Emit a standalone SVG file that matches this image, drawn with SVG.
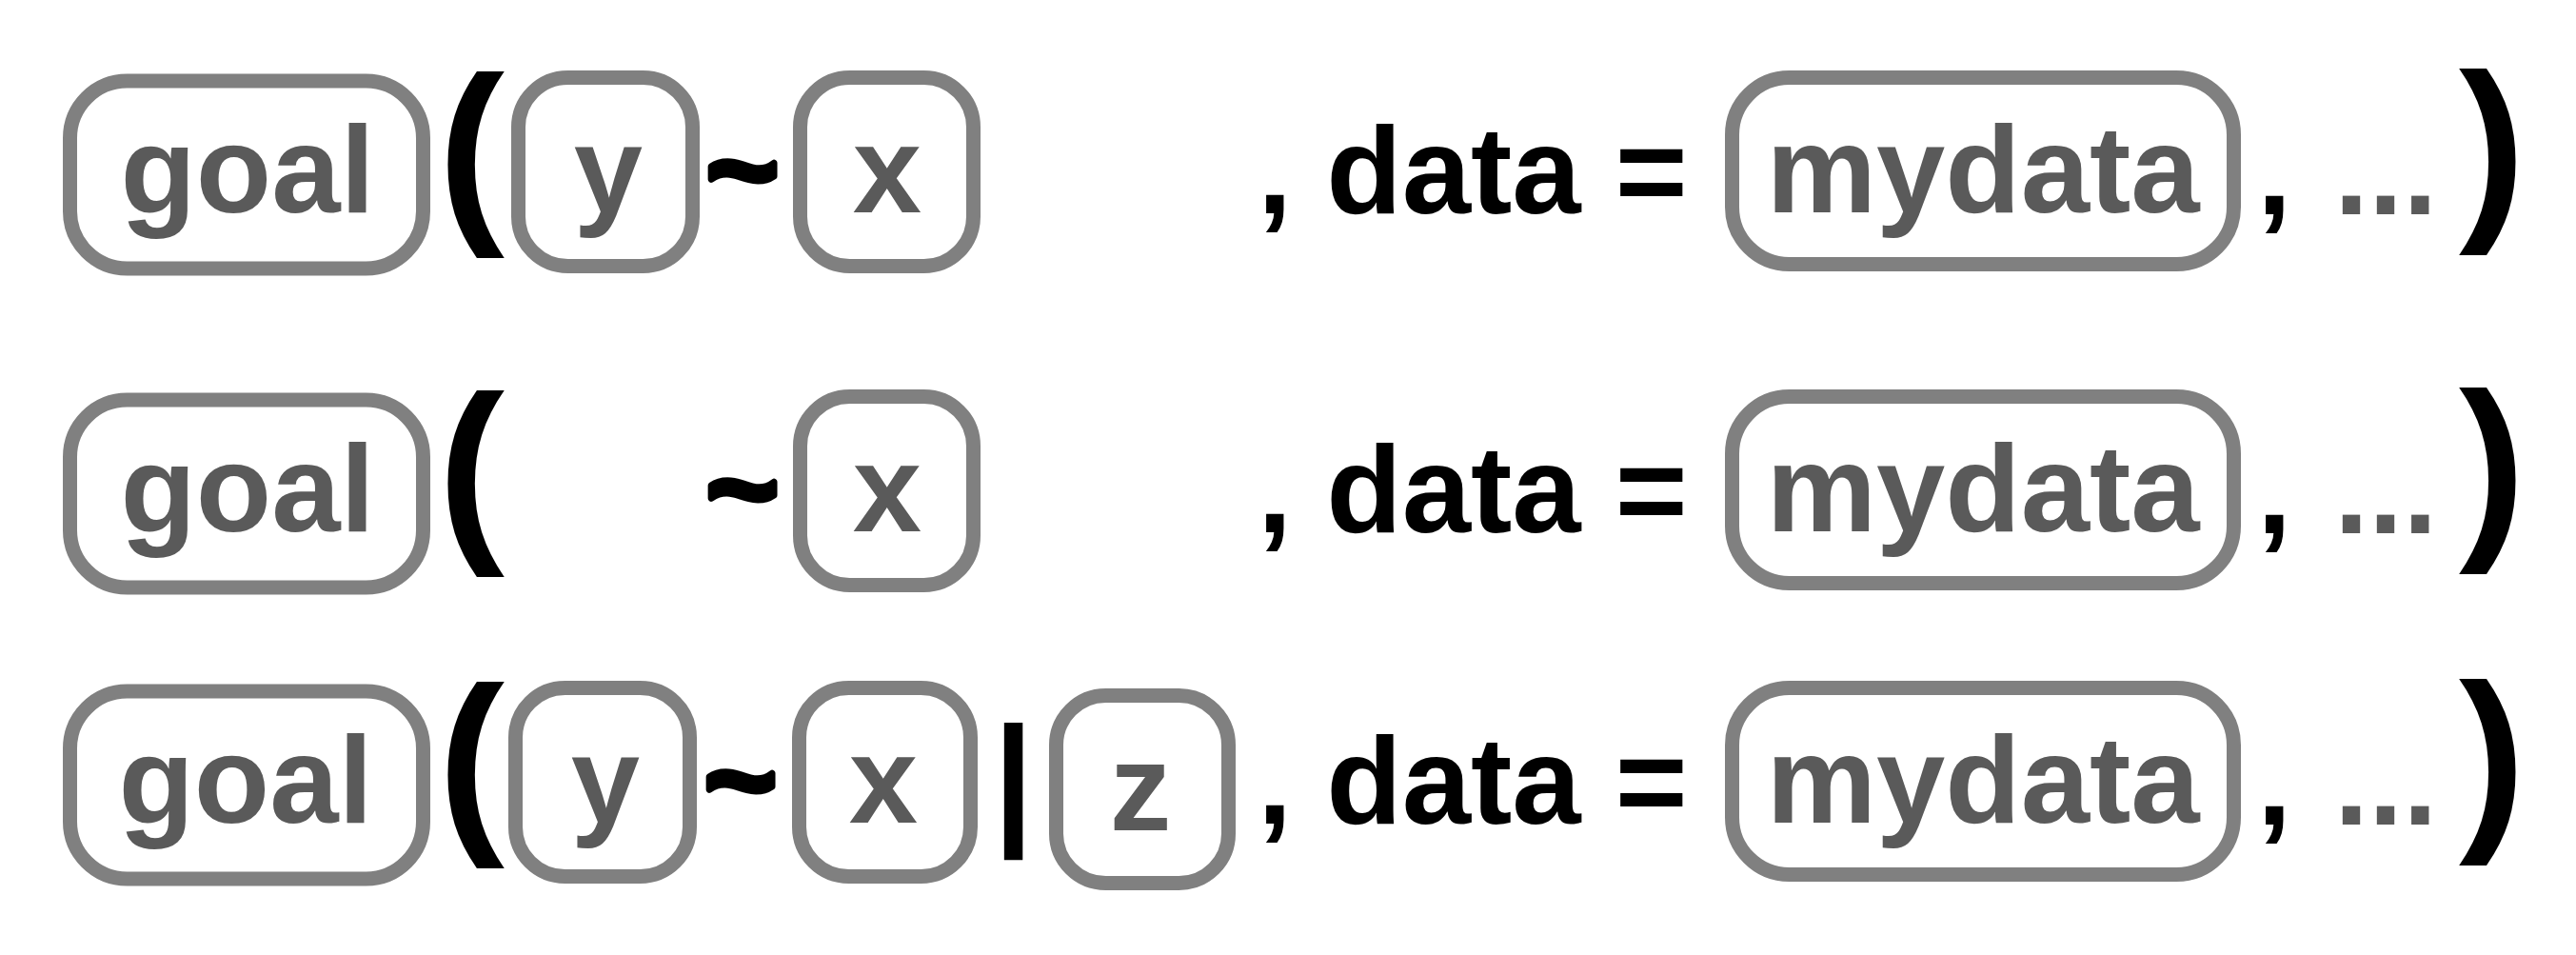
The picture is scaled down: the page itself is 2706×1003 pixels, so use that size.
<svg xmlns="http://www.w3.org/2000/svg" width="2706" height="1003" viewBox="0 0 2706 1003">
<style>
.box{fill:#fff;stroke:#808080;stroke-width:15}
.lbl{font-family:"Liberation Sans",Arial,sans-serif;font-weight:bold;font-size:130px;fill:#5a5a5a;text-anchor:middle}
.op{font-family:"Liberation Sans",Arial,sans-serif;font-weight:bold;font-size:130px;fill:#000}
.tl{font-family:"Liberation Sans",Arial,sans-serif;font-weight:bold;font-size:130px;fill:#000;stroke:#000;stroke-width:7;stroke-linejoin:round;text-anchor:middle}
.dots{font-family:"Liberation Sans",Arial,sans-serif;font-weight:bold;font-size:130px;fill:#5a5a5a}
.par{font-family:"Liberation Sans",Arial,sans-serif;font-weight:bold;font-size:210px;fill:#000;text-anchor:middle}
.bar{font-family:"Liberation Sans",Arial,sans-serif;font-weight:bold;font-size:152px;fill:#000;text-anchor:middle}
</style>
<rect width="2706" height="1003" fill="#fff"/>
<g id="connectors"/>

<g id="row1">
  <g id="goal1"><rect class="box" x="73.5" y="85" width="371" height="197" rx="60"/><text class="lbl" x="260" y="223">goal</text></g>
  <text class="par" x="495" y="227">(</text>
  <g id="y1"><rect class="box" x="544.5" y="81.5" width="183" height="198" rx="52"/><text class="lbl" x="639" y="223">y</text></g>
  <text class="tl" x="780" y="223">~</text>
  <g id="x1"><rect class="box" x="840.5" y="81.5" width="182" height="198" rx="52"/><text class="lbl" x="932" y="223">x</text></g>
  <text class="op" x="1321" y="224">, data =</text>
  <g id="mydata1"><rect class="box" x="1819.5" y="81.5" width="527" height="196" rx="60"/><text class="lbl" x="2083" y="223">mydata</text></g>
  <text class="op" x="2371" y="225">,</text>
  <text class="dots" x="2452" y="225">...</text>
  <text class="par" x="2618" y="224">)</text>
</g>

<g id="row2" transform="translate(0,335)">
  <g id="goal2"><rect class="box" x="73.5" y="85" width="371" height="197" rx="60"/><text class="lbl" x="260" y="223">goal</text></g>
  <text class="par" x="495" y="227">(</text>
  <text class="tl" x="780" y="223">~</text>
  <g id="x2"><rect class="box" x="840.5" y="81.5" width="182" height="198" rx="52"/><text class="lbl" x="932" y="223">x</text></g>
  <text class="op" x="1321" y="224">, data =</text>
  <g id="mydata2"><rect class="box" x="1819.5" y="81.5" width="527" height="196" rx="60"/><text class="lbl" x="2083" y="223">mydata</text></g>
  <text class="op" x="2371" y="225">,</text>
  <text class="dots" x="2452" y="225">...</text>
  <text class="par" x="2618" y="224">)</text>
</g>

<g id="row3" transform="translate(0,641)">
  <g id="goal3"><rect class="box" x="73.5" y="85" width="371" height="197" rx="60"/><text class="lbl" x="258" y="223">goal</text></g>
  <text class="par" x="495" y="227">(</text>
  <g id="y3"><rect class="box" x="541.5" y="81.5" width="183" height="198" rx="52"/><text class="lbl" x="636" y="223">y</text></g>
  <text class="tl" x="778" y="223">~</text>
  <g id="x3"><rect class="box" x="839.5" y="81.5" width="180" height="198" rx="52"/><text class="lbl" x="928" y="223">x</text></g>
  <text class="bar" x="1064.5" y="228">|</text>
  <g id="z3"><rect class="box" x="1109.5" y="89.5" width="181" height="197" rx="52"/><text class="lbl" x="1198" y="231">z</text></g>
  <text class="op" x="1321" y="224">, data =</text>
  <g id="mydata3"><rect class="box" x="1819.5" y="81.5" width="527" height="196" rx="60"/><text class="lbl" x="2083" y="223">mydata</text></g>
  <text class="op" x="2371" y="225">,</text>
  <text class="dots" x="2452" y="225">...</text>
  <text class="par" x="2618" y="224">)</text>
</g>
</svg>
